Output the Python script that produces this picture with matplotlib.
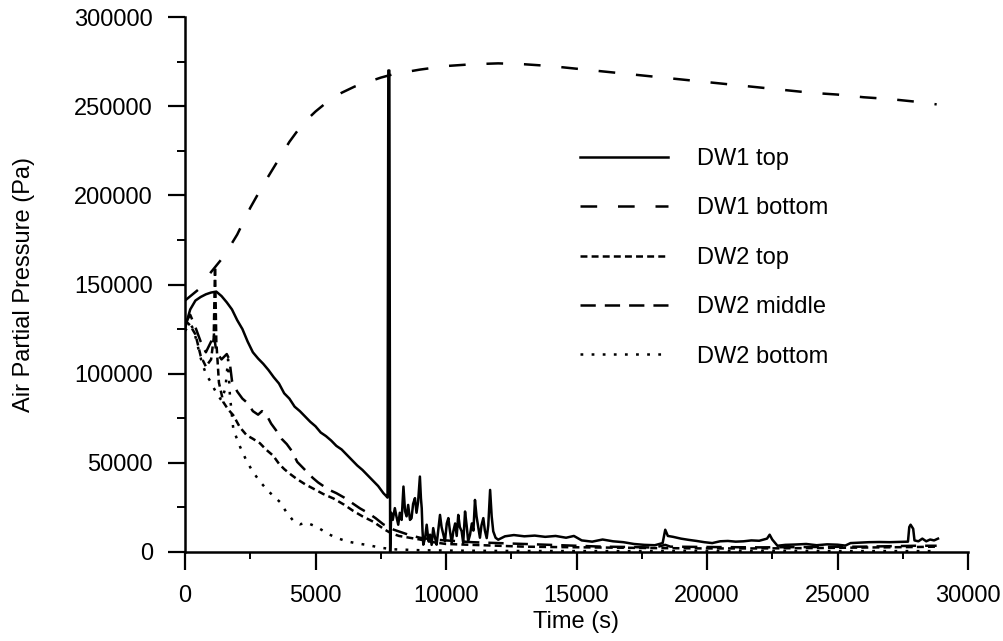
import matplotlib
matplotlib.use("Agg")
import matplotlib.pyplot as plt
from matplotlib.ticker import MultipleLocator

plt.rcParams['font.family'] = ['Liberation Sans', 'DejaVu Sans']
plt.rcParams['lines.scale_dashes'] = False

# ---------------- data ----------------
dw1_top_t = [0, 100, 200, 400, 600, 800, 1000, 1200, 1400, 1600, 1800, 2000, 2200, 2400, 2600, 2800,
             3000, 3200, 3400, 3600, 3800, 4000, 4200, 4400, 4600, 4800, 5000, 5200, 5400, 5600, 5800,
             6000, 6200, 6400, 6600, 6800, 7000, 7200, 7400, 7600, 7700, 7760, 7790, 7830, 7860,
             7900, 7960, 8040, 8100, 8170, 8230, 8300, 8370, 8430, 8490, 8550, 8620, 8680, 8740, 8810,
             8870, 8930, 9000, 9040, 9070, 9100, 9130, 9200, 9260, 9330, 9390, 9450, 9510, 9580, 9640,
             9700, 9770, 9830, 9900, 9960, 10030, 10090, 10150, 10220, 10280, 10350, 10410, 10470,
             10530, 10600, 10660, 10730, 10790, 10850, 10920, 10990, 11050, 11110, 11170, 11240,
             11300, 11360, 11430, 11490, 11560, 11620, 11690, 11750, 11810, 11900, 12000, 12260,
             12600, 13000, 13400, 13800, 14200, 14600, 14900, 15200, 15600, 16000, 16400, 16800,
             17200, 17600, 18000, 18300, 18400, 18500, 18700, 19000, 19300, 19600, 19900, 20200,
             20500, 20800, 21100, 21400, 21700, 22000, 22300, 22400, 22500, 22700, 23000, 23400,
             23800, 24200, 24600, 25000, 25300, 25500, 25800, 26200, 26600, 27000, 27400, 27700,
             27750, 27800, 27900, 27950, 28100, 28250, 28400, 28550, 28700, 28850]
dw1_top_p = [125000, 131000, 136000, 141000, 143000, 144500, 145500, 146000, 143500, 140000, 136000,
             130000, 125000, 118000, 112000, 108500, 105500, 102000, 98000, 94500, 89000, 86000,
             81500, 79000, 76000, 73000, 70500, 67000, 65000, 62500, 59500, 57500, 54500, 51500,
             48500, 46000, 43000, 40000, 37000, 33000, 31500, 30500, 270000, 270000, 0,
             22000, 18000, 24600, 20000, 15300, 22000, 18000, 36700, 22900, 20000, 26400, 18000,
             19000, 27000, 30200, 22000, 28000, 42300, 30000, 24600, 12000, 4100, 8000, 15300,
             6000, 9700, 4000, 13400, 8000, 4100, 12000, 20800, 14000, 9700, 6000, 16000, 19000,
             12000, 5000, 11600, 16000, 9000, 20800, 14000, 11600, 5000, 22700, 15000, 6000, 9700,
             16000, 12000, 29200, 20000, 13400, 8000, 15000, 19000, 12000, 7800, 15000, 34800,
             20000, 11600, 8000, 6900, 8800, 9500, 8800, 9200, 8500, 9000, 8000, 9000, 6500,
             5800, 7000, 6000, 5500, 4500, 4000, 3800, 5000, 12500, 9000, 8500, 7500, 6800, 6200,
             5500, 5000, 6000, 6200, 5800, 6000, 6500, 6300, 7500, 9700, 7000, 3500, 4000, 4200,
             4500, 3800, 4300, 4100, 3600, 5000, 5200, 5500, 5600, 5500, 5700, 5800, 14000, 15300,
             13000, 6500, 6000, 7500, 6000, 7000, 6500, 7500]

dw1_bot_t = [0, 500, 1000, 1500, 2000, 2500, 3000, 3500, 4000, 4500, 5000, 5500, 6000, 6500, 7000,
             7500, 8000, 9000, 10000, 11000, 12000, 13000, 14000, 15000, 16000, 17000, 18000, 19000,
             20000, 21000, 22000, 23000, 24000, 25000, 26000, 27000, 28000, 28800]
dw1_bot_p = [141000, 147000, 157000, 166000, 178000, 193000, 206000, 218000, 230000, 240000, 247000,
             253000, 257500, 261000, 263500, 266000, 268000, 270500, 272500, 273500, 274000, 273500,
             272500, 271000, 269500, 268000, 266500, 265000, 263500, 262000, 260500, 259000, 257500,
             256500, 255000, 254000, 252500, 251000]

dw2_top_t = [0, 200, 400, 600, 800, 1000, 1100, 1150, 1200, 1300, 1470, 1650, 1850, 2100, 2360, 2600,
             2870, 3100, 3380, 3600, 3800, 4050, 4280, 4600, 4920, 5300, 5690, 6100, 6450, 6800, 7210,
             7660, 7900, 8200, 8600, 9000, 9500, 10000, 11000, 12000, 13000, 14000, 16000, 18000,
             20000, 22000, 24000, 26000, 28000, 28800]
dw2_top_p = [130000, 127000, 122000, 110000, 104000, 108000, 120000, 160000, 118000, 95000, 84000,
             80000, 76700, 70000, 65500, 63500, 61000, 57500, 54000, 49500, 46500, 43500, 41000,
             38000, 35500, 32500, 30000, 26500, 23000, 20000, 17000, 12500, 10500, 9000, 8000, 7000,
             5500, 4500, 4000, 3500, 3000, 2800, 2500, 2200, 2000, 2000, 2200, 2500, 2800, 3000]

dw2_mid_t = [0, 200, 400, 600, 800, 1000, 1100, 1200, 1400, 1600, 1700, 1800, 2000, 2200, 2400, 2600,
             2800, 2950, 3100, 3300, 3500, 3700, 3900, 4100, 4300, 4500, 4700, 4900, 5100, 5300, 5500,
             5800, 6100, 6400, 6700, 7000, 7300, 7600, 7800, 8000, 8300, 8600, 9000, 9500, 10000,
             10500, 11000, 12000, 13000, 14000, 15000, 16000, 17000, 18000, 18400, 18600, 20000,
             22000, 24000, 26000, 28000, 28800]
dw2_mid_p = [128000, 133000, 126000, 118000, 112000, 118000, 123000, 112000, 108000, 111000, 108000,
             96000, 90000, 86000, 83500, 79000, 77000, 79000, 77500, 72000, 68000, 63500, 60500,
             56500, 50500, 47500, 44500, 41500, 39000, 37000, 35000, 33000, 30500, 27500, 24500,
             22000, 19000, 15500, 14000, 12500, 11000, 9500, 8000, 7000, 6500, 6000, 5500, 5000,
             4500, 4000, 3500, 3000, 2800, 2500, 4000, 3000, 2800, 2600, 2800, 3000, 3500, 3500]

dw2_bot_t = [0, 200, 320, 450, 575, 700, 830, 960, 1100, 1250, 1400, 1550, 1650, 1720, 1850, 2000,
             2110, 2360, 2600, 2870, 3200, 3640, 3900, 4150, 4400, 4650, 4900, 5170, 5500, 5800, 6190,
             6600, 6960, 7300, 7600, 8000, 9000, 10000, 12000, 15000, 20000, 25000, 28800]
dw2_bot_p = [124000, 128000, 125000, 118000, 110000, 104000, 99000, 96000, 92000, 88000, 85000,
             92000, 108000, 88000, 69000, 63000, 59000, 51000, 45000, 39500, 34000, 28000, 22000,
             17500, 15500, 16500, 15000, 13000, 10000, 8000, 6000, 4800, 4000, 3000, 2200, 1500,
             1000, 800, 600, 500, 500, 500, 500]

series_labels = ["DW1 top", "DW1 bottom", "DW2 top", "DW2 middle", "DW2 bottom"]
x_ticks = [0, 5000, 10000, 15000, 20000, 25000, 30000]
y_ticks = [0, 50000, 100000, 150000, 200000, 250000, 300000]

# ---------------- figure ----------------
W, H = 1004, 641
fig = plt.figure(figsize=(W / 100, H / 100), dpi=100)
ax = fig.add_axes([185 / W, 1 - 552 / H, (968 - 185) / W, (552 - 17) / H])

lw = 1.8
ax.plot(dw1_top_t, dw1_top_p, color='black', lw=lw, label=series_labels[0])
ax.plot(dw1_bot_t, dw1_bot_p, color='black', lw=lw, dashes=(12, 15), label=series_labels[1])
ax.plot(dw2_top_t, dw2_top_p, color='black', lw=lw, dashes=(5, 3), label=series_labels[2])
ax.plot(dw2_mid_t, dw2_mid_p, color='black', lw=lw, dashes=(11, 6.5), label=series_labels[3])
ax.plot(dw2_bot_t, dw2_bot_p, color='black', lw=lw, dashes=(2, 6), label=series_labels[4])

ax.set_xlim(0, 30000)
ax.set_ylim(0, 300000)
ax.set_xticks(x_ticks)
ax.set_yticks(y_ticks)
ax.xaxis.set_minor_locator(MultipleLocator(2500))
ax.yaxis.set_minor_locator(MultipleLocator(25000))
ax.spines['top'].set_visible(False)
ax.spines['right'].set_visible(False)
ax.spines['left'].set_linewidth(1.8)
ax.spines['bottom'].set_linewidth(1.8)

fs = 17
ax.tick_params(axis='y', which='major', direction='out', length=12, width=1.6, pad=11, labelsize=fs)
ax.tick_params(axis='y', which='minor', direction='out', length=6, width=1.4)
ax.tick_params(axis='x', which='major', direction='out', length=13, width=1.6, pad=11, labelsize=fs)
ax.tick_params(axis='x', which='minor', direction='out', length=5, width=1.4)

fig.text(576 / W, 1 - 622 / H, "Time (s)", ha='center', va='center', fontsize=fs)
fig.text(24 / W, 1 - 285 / H, "Air Partial Pressure (Pa)", ha='center', va='center',
         rotation=90, fontsize=fs)

fpx = fs * 100 / 72
ax.legend(loc='upper left', bbox_to_anchor=(580 / W, 1 - 148 / H), bbox_transform=fig.transFigure,
          frameon=False, fontsize=fs, borderpad=0, borderaxespad=0,
          handlelength=88 / fpx, handletextpad=29 / fpx, labelspacing=1.16)

fig.savefig("out.png", dpi=100, facecolor='white')
